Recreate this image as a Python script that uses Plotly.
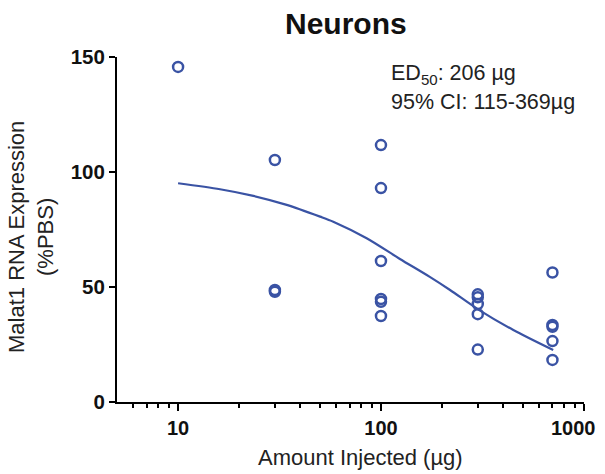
import plotly.graph_objects as go

# Data
dose_x = [10, 30, 30, 30, 100, 100, 100, 100, 100, 100,
          300, 300, 300, 300, 300, 700, 700, 700, 700, 700]
expr_y = [145.7, 105.2, 48.7, 47.9, 111.7, 93.0, 61.3, 44.8, 43.6, 37.4,
          46.8, 45.5, 42.6, 38.2, 22.8, 56.3, 33.5, 32.7, 26.5, 18.3]

fit_x = [10, 16.1, 23.5, 34.3, 50.1, 58.2, 85.0, 124, 174, 219, 301, 449, 706]
fit_y = [95.1, 92.5, 89.6, 85.7, 80.6, 78.4, 71.2, 62.2, 54.4, 48.7, 40.3, 31.3, 22.6]

y_ticks = [0, 50, 100, 150]
x_ticks = [10, 100, 1000]
# the last label is drawn as an annotation, nudged left of its tick like the reference
x_ticktext = ["10", "100", ""]
x_last_label = "1000"
x_minor = [6, 7, 8, 9, 20, 30, 40, 50, 60, 70, 80, 90,
           200, 300, 400, 500, 600, 700, 800, 900]

color = "#3A53A4"
font = "Liberation Sans, Arial, sans-serif"

L, R, T, B = 117, 584, 57, 402


def px(xp):
    return (xp - L) / (R - L)


def py(yp):
    return (B - yp) / (B - T)


fig = go.Figure()
fig.add_trace(go.Scatter(x=fit_x, y=fit_y, mode="lines",
                         line=dict(color=color, width=2.2, shape="spline", smoothing=0.8),
                         showlegend=False, hoverinfo="skip"))
fig.add_trace(go.Scatter(x=dose_x, y=expr_y, mode="markers",
                         marker=dict(symbol="circle-open", size=10, color=color,
                                     line=dict(width=2.5, color=color)),
                         showlegend=False))

fig.update_layout(
    width=605, height=474,
    margin=dict(l=L, r=605 - R, t=T, b=474 - B),
    paper_bgcolor="white", plot_bgcolor="white",
    font=dict(family=font, color="#222222"),
    xaxis=dict(type="log", range=[0.69897, 3.0006], showgrid=False, zeroline=False,
               automargin=False,
               showline=True, linecolor="black", linewidth=2,
               ticks="outside", ticklen=7, tickwidth=2, tickcolor="black",
               tickvals=x_ticks, ticktext=x_ticktext,
               tickfont=dict(size=20, color="#111111", weight="bold"),
               minor=dict(tickvals=x_minor, ticks="outside", ticklen=4,
                          tickwidth=2, tickcolor="black", showgrid=False)),
    yaxis=dict(range=[0, 150], showgrid=False, zeroline=False,
               automargin=False,
               showline=True, linecolor="black", linewidth=2,
               ticks="outside", ticklen=6, tickwidth=2, tickcolor="black",
               tickvals=y_ticks,
               tickfont=dict(size=20.5, color="#111111", weight="bold")),
)

fig.add_annotation(text=x_last_label, xref="paper", yref="paper",
                   x=px(598), y=py(428), xanchor="right", yanchor="middle",
                   showarrow=False, font=dict(size=20, color="#111111", weight="bold"))

# Title and axis titles
fig.add_annotation(text="Neurons", xref="paper", yref="paper", x=px(346), y=py(23),
                   xanchor="center", yanchor="middle", showarrow=False,
                   font=dict(size=30, color="#111111", weight="bold"))
fig.add_annotation(text="Amount Injected (µg)", xref="paper", yref="paper",
                   x=px(360), y=py(457), xanchor="center", yanchor="middle",
                   showarrow=False, font=dict(size=22, color="#222222"))
fig.add_annotation(text="Malat1 RNA Expression<br>(%PBS)", xref="paper", yref="paper",
                   x=px(31), y=py(237), xanchor="center", yanchor="middle",
                   textangle=-90, showarrow=False, font=dict(size=22, color="#222222"))

fig.add_annotation(text="ED<sub>50</sub>: 206 µg", xref="paper", yref="paper",
                   x=px(389), y=py(74), xanchor="left", yanchor="middle",
                   showarrow=False, font=dict(size=21.5, color="#222222"))
fig.add_annotation(text="95% CI: 115-369µg", xref="paper", yref="paper",
                   x=px(389), y=py(102), xanchor="left", yanchor="middle",
                   showarrow=False, font=dict(size=21.5, color="#222222"))

fig.write_html("out.html")
